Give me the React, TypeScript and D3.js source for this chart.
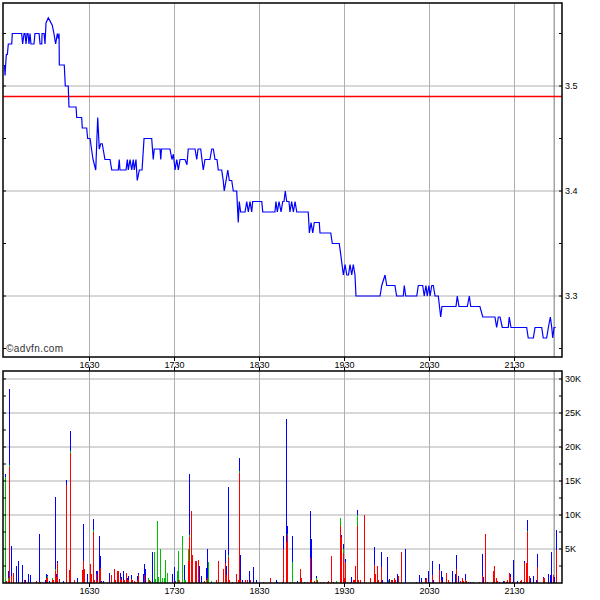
import React from "react";
import * as d3 from "d3";

// ---- data ----
const timeTickMinutes = [60, 120, 180, 240, 300, 360];
const timeLabels = ["1630", "1730", "1830", "1930", "2030", "2130"];
const priceTicks = [3.3, 3.4, 3.5];
const priceTickLabels = ["3.3", "3.4", "3.5"];
const volumeTicks = [5, 10, 15, 20, 25, 30];
const volumeTickLabels = ["5K", "10K", "15K", "20K", "25K", "30K"];
const previousClose = 3.49;
const lastTradeMinute = 388;

// [minutes since 15:30, price]
const trades: [number, number][] = [
  [0, 3.52], [0.4, 3.51], [0.8, 3.52], [1.3, 3.53], [2.0, 3.53], [2.7, 3.54], [5.1, 3.54], [5.5, 3.55],
  [12.1, 3.55], [12.8, 3.54], [13.8, 3.55], [14.5, 3.55], [15.2, 3.54], [15.9, 3.55], [16.6, 3.55],
  [17.3, 3.54], [18, 3.55], [18.7, 3.54], [20.8, 3.54], [21.5, 3.55], [24.4, 3.55], [25.1, 3.54],
  [26.3, 3.54], [26.5, 3.55], [27.9, 3.55], [28.6, 3.54], [29.3, 3.56], [30.9, 3.565], [32.1, 3.562],
  [33.7, 3.558], [34.9, 3.55], [36.1, 3.54], [37.3, 3.55], [38, 3.545], [38.5, 3.55], [38.7, 3.52],
  [42.2, 3.52], [42.9, 3.5], [45, 3.5], [45.5, 3.48], [50.5, 3.48], [51, 3.47], [54.5, 3.47],
  [54.9, 3.46], [58, 3.46], [58.7, 3.45], [60.4, 3.45], [61.4, 3.44], [62.5, 3.43], [64.4, 3.42],
  [65.8, 3.47], [66.9, 3.44], [67.9, 3.445], [69, 3.445], [70.9, 3.43], [74.5, 3.43], [75.7, 3.42],
  [80.3, 3.42], [81, 3.43], [81.5, 3.42], [85.8, 3.42], [86.7, 3.43], [87.4, 3.42], [88.6, 3.43],
  [89.8, 3.42], [90.9, 3.43], [91.6, 3.42], [92.8, 3.43], [93.7, 3.41], [95.2, 3.42], [97.1, 3.42],
  [98.5, 3.45], [103.9, 3.45], [105, 3.43], [105.7, 3.44], [109.8, 3.44], [110.3, 3.43], [110.8, 3.44],
  [116.8, 3.44], [118.2, 3.43], [119.2, 3.435], [120.4, 3.42], [121.6, 3.43], [122.7, 3.42],
  [123.9, 3.43], [127.4, 3.43], [128.8, 3.425], [129.7, 3.44], [134.5, 3.44], [135.7, 3.43],
  [136.6, 3.44], [138.5, 3.44], [140.3, 3.42], [141.5, 3.43], [145, 3.43], [146.3, 3.44],
  [147.4, 3.44], [148.6, 3.43], [150, 3.43], [150.9, 3.42], [153.3, 3.42], [154.4, 3.41],
  [155.1, 3.4], [156.4, 3.41], [157.6, 3.42], [158.7, 3.41], [160.4, 3.41], [161.5, 3.4],
  [163.9, 3.4], [165, 3.37], [165.7, 3.39], [166.7, 3.38], [169.8, 3.38], [171, 3.39], [172.1, 3.38],
  [173.3, 3.39], [174.5, 3.38], [175.2, 3.39], [181.6, 3.39], [182.3, 3.38], [190.9, 3.38],
  [191.6, 3.39], [192.6, 3.38], [193.8, 3.39], [195.2, 3.38], [196.4, 3.39], [197.3, 3.39],
  [198.2, 3.4], [199.2, 3.39], [200.8, 3.39], [201.5, 3.38], [202.7, 3.39], [203.9, 3.38],
  [205.1, 3.39], [206.3, 3.38], [214.4, 3.38], [215.2, 3.36], [216.4, 3.37], [217.6, 3.36],
  [218.7, 3.37], [222.2, 3.37], [222.7, 3.36], [230.3, 3.36], [231.4, 3.35], [236.3, 3.35],
  [237.3, 3.34], [239.2, 3.32], [240.4, 3.33], [241.6, 3.32], [242.8, 3.32], [243.9, 3.33],
  [245.1, 3.32], [246.2, 3.33], [247.4, 3.32], [248.1, 3.3], [265.1, 3.3], [266.3, 3.31],
  [268.6, 3.32], [269.8, 3.31], [275.6, 3.31], [276.8, 3.3], [281.5, 3.3], [282.2, 3.31],
  [283.2, 3.3], [291, 3.3], [292.1, 3.31], [295.2, 3.31], [296.3, 3.3], [297.5, 3.31], [298.4, 3.3],
  [299.6, 3.31], [300.4, 3.3], [301.6, 3.31], [302.7, 3.31], [303.9, 3.3], [306.2, 3.3],
  [307.9, 3.28], [308.8, 3.29], [318.7, 3.29], [319.6, 3.3], [320.8, 3.29], [326.7, 3.29],
  [328.1, 3.3], [329.1, 3.29], [335.6, 3.29], [337.6, 3.28], [346.2, 3.28], [347.4, 3.27],
  [348.6, 3.28], [349.8, 3.28], [351.4, 3.27], [355.6, 3.27], [356.3, 3.28], [357.5, 3.27],
  [368.6, 3.27], [369.7, 3.26], [373.3, 3.26], [374.5, 3.27], [379.2, 3.27], [380.3, 3.26],
  [382.7, 3.26], [383.9, 3.27], [385.3, 3.28], [386.3, 3.27], [387, 3.26], [387.9, 3.27], [389.1, 3.27],
];

// [minutes since 15:30, sell (red) K, unknown (green) K, buy (blue) K]
const volumes: [number, number, number, number][] = [
  [0, 0, 15.6, 0.4], [0.8, 0.3, 0, 0], [2.7, 0.3, 0.4, 1.0], [3.4, 17.0, 0.4, 11.1], [4.6, 1.0, 0, 4.4],
  [6.0, 1.4, 0, 0], [8.3, 0, 0, 2.5], [9.7, 0, 0, 3.2], [12.6, 0, 0, 2.6], [13.8, 0.4, 0, 0],
  [14.8, 0.2, 0, 0.3], [16.8, 0, 0, 1.3], [18.2, 0, 0, 1.2], [22, 0.3, 0, 0], [24.6, 0.2, 0, 7.0],
  [25.3, 0.2, 0, 0], [28.9, 0, 0, 0.5], [29.5, 0.7, 0, 0.6], [30.2, 0.8, 0.2, 0.2], [31.6, 0, 0, 0.3],
  [33.7, 0.5, 0.2, 0], [34.4, 0.5, 0, 0], [35.9, 1.8, 0.2, 10.6], [36.6, 0.9, 0, 0.4],
  [37.3, 2.9, 0, 0.3], [38.8, 0.4, 0, 0.2], [41.5, 0, 0, 0.3], [43.6, 14.4, 0, 0.7], [45.7, 1.9, 0, 0],
  [46.4, 19.1, 0.3, 3.0], [49.3, 0.4, 0, 0], [51.4, 0, 0.2, 0.5], [54.9, 1.9, 0, 0], [55.6, 3.2, 0, 5.5],
  [56.3, 2.1, 0, 0], [58.4, 0, 0, 1.3], [60, 0.5, 0, 0], [60.6, 2.8, 0, 0], [61.3, 1.3, 0, 0],
  [62.7, 7.5, 0.3, 1.6], [63.4, 0.5, 0, 0], [64.8, 1.3, 0, 0.4], [65.5, 0.3, 0, 1.4], [66.7, 1.9, 0, 5.0],
  [67.4, 2.2, 0, 1.7], [68.1, 0, 0, 0.3], [69.7, 0, 0, 0.3], [72.1, 0.2, 0, 0], [74, 0, 0, 1.4],
  [75.4, 1.2, 0, 0], [77.3, 2.0, 0, 0], [78, 0.5, 0, 0], [79.6, 1.7, 0, 0], [80.3, 1.8, 0, 0],
  [81.5, 0.8, 0, 0.6], [82.2, 0.5, 0, 0.4], [83.9, 0.5, 0, 1.3], [84.6, 0.4, 0, 0], [85.8, 1.4, 0, 0],
  [86.7, 0.5, 0, 0.3], [87.4, 0.4, 0, 0.6], [89.1, 0.6, 0, 0.6], [89.8, 0.4, 0, 0], [91.4, 0.3, 0, 0],
  [92.1, 0.2, 0, 0], [93.7, 0.5, 0, 0.5], [94.4, 1.2, 0, 0.2], [98, 0, 0, 1.3], [98.7, 1.2, 0, 1.6],
  [99.4, 0, 0, 2.1], [101.5, 0, 0.7, 0], [102, 0.5, 0, 0], [102.9, 0.3, 0, 0], [104.3, 0, 0, 4.5],
  [105.7, 0, 4.5, 0], [106.4, 0, 0.6, 0], [107.9, 0, 9.1, 0], [108.6, 0, 0.9, 0], [110, 0, 5.0, 0],
  [111.4, 0, 0.8, 0], [112.8, 0, 0.8, 0], [113.5, 0, 3.4, 0], [114.9, 0, 1.4, 0], [118.2, 0, 0, 1.3],
  [119.9, 0, 0, 2.3], [120.6, 0.3, 0, 0], [122, 0, 1.7, 0], [122.7, 0.5, 4.2, 0], [123.4, 0, 0.5, 0],
  [125.5, 0, 6.9, 0], [126.7, 0, 0.5, 2.1], [127.4, 0, 0.4, 0], [129.5, 3.2, 1.8, 0],
  [130.2, 6.7, 0.3, 9.0], [131.6, 10.6, 0, 0], [132.6, 4.1, 0, 0], [134.3, 3.2, 0, 0],
  [135.4, 3.2, 0, 0], [136.8, 3.4, 0, 0], [137.5, 0, 0, 2.5], [138.9, 0, 0, 1.0], [141, 0.3, 0, 0],
  [142, 0, 0.5, 1.7], [142.7, 0.7, 0, 4.3], [143.9, 0, 3.1, 0], [146, 0, 0.3, 0], [149.3, 0.4, 0, 0],
  [150.9, 3.2, 0, 0], [154.4, 2.1, 0, 0], [155.6, 3.0, 0, 1.9], [156.3, 1.2, 0, 1.3],
  [157.7, 3.8, 0.3, 10.0], [158.7, 0.4, 0, 0], [160.4, 0.2, 0, 0], [163.4, 1.3, 0, 0], [165, 0.5, 0, 0],
  [165.7, 16.2, 0.3, 1.9], [166.4, 0.5, 0, 3.6], [167.9, 0, 0, 0.4], [170, 0.4, 0, 0], [171, 0.4, 0, 0],
  [172.8, 0, 0, 1.7], [173.5, 0.4, 0, 0], [175.6, 0, 0, 2.3], [177.7, 0, 0, 0.5], [182.7, 0.2, 0, 0],
  [187.4, 0.7, 0, 0], [191.6, 0, 0, 0.5], [192.6, 0, 0, 0.2], [196.1, 0, 0, 0.2], [196.8, 5.0, 0, 1.9],
  [198.7, 6.0, 0, 18.1], [199.4, 7.0, 0.2, 1.2], [201.7, 0.2, 0, 0], [203.1, 0, 3.1, 3.8],
  [204.5, 0.2, 0, 0], [206.7, 0, 0, 0.3], [208.8, 2.1, 0, 0], [209.5, 0.8, 0, 0], [211.2, 0, 0, 0.2],
  [213.7, 0.2, 0, 0], [215.9, 3.7, 0, 6.9], [216.6, 0.4, 0, 6.1], [218.7, 0.3, 0, 0], [220.1, 0, 0.7, 0.3],
  [220.8, 0.5, 0, 0], [222.9, 0.2, 0, 0], [225, 0.2, 0, 0], [227.9, 0.2, 0, 0], [228.6, 0.3, 0, 0],
  [230.8, 4.0, 0, 0], [232.1, 0.2, 0, 0], [234, 0, 0.3, 0], [237, 8.4, 1.1, 0], [237.7, 6.8, 0, 0.3],
  [239.2, 4.4, 0.6, 0.7], [239.9, 0.7, 0, 0], [240.6, 3.1, 0, 0.4], [244.1, 0.2, 0, 0],
  [244.8, 0, 0, 0.9], [246.2, 0.5, 0, 0], [246.9, 0.5, 0, 0], [247.6, 2.5, 0, 0], [249, 8.4, 1.6, 0.7],
  [249.7, 0.5, 0, 0], [251.2, 0.4, 0, 0], [254, 10.0, 0, 0], [258.2, 0.7, 0, 0], [261, 2.6, 0, 2.7],
  [261.8, 1.3, 0, 0], [263.2, 2.5, 0, 0], [263.9, 0.4, 0, 0], [265.3, 0.2, 0, 0], [266, 2.3, 0, 2.3],
  [266.7, 0, 0, 0.4], [270.2, 0, 0, 3.8], [270.9, 0, 0.5, 0], [271.6, 0, 0, 0.6], [273, 0.5, 0, 0],
  [273.7, 0.4, 0, 0], [275.1, 0.7, 0, 0], [275.9, 0.4, 0, 0], [277.3, 0, 0, 1.3], [278, 1.0, 0, 0],
  [280.1, 4.6, 0, 0], [282.9, 0, 0, 5.0], [290.7, 0.2, 0, 0], [292.8, 0, 0, 1.2], [294.2, 0, 0, 0.7],
  [297, 0.5, 0, 0.2], [297.8, 0.7, 0, 0], [299.2, 0, 0, 1.7], [299.9, 0, 0, 0.2], [302, 1.2, 0, 2.0],
  [302.7, 0, 0, 0.4], [306.9, 1.9, 0, 0.9], [308.3, 0.5, 0, 1.2], [309, 0, 0, 0.9], [311.8, 1.5, 0, 0],
  [313.4, 0.5, 0, 0], [314.1, 0.2, 0, 0], [316.2, 0, 0, 1.7], [318.3, 0, 0, 1.3], [318.9, 2.1, 0, 2.0],
  [320.3, 0, 0, 1.0], [321.7, 0.3, 0, 0], [323.2, 0.7, 0, 0], [323.9, 0.3, 0, 0], [325.3, 0.4, 0, 0.9],
  [326, 0.3, 0, 0], [327.4, 0, 0, 0.2], [328.8, 0, 0, 0.2], [330.9, 0.2, 0, 0], [335.2, 0.2, 0, 0],
  [337.3, 1.0, 0, 3.3], [338, 0, 0, 0.9], [339.4, 7.2, 0, 0], [340.8, 0.2, 0, 0], [344.4, 0.2, 0, 0],
  [345.1, 1.7, 0, 0], [345.8, 2.5, 0, 0], [347.2, 0.7, 0, 0], [347.9, 0.3, 0, 0], [349.3, 0, 0, 0.2],
  [352.1, 0, 0, 0.3], [352.8, 0.3, 0, 0], [354.2, 0.2, 0, 0], [354.9, 0.5, 0, 0], [356.3, 1.4, 0, 0],
  [357, 0.9, 0, 0.4], [358.4, 0.2, 0, 0], [359.1, 0.2, 0, 3.2], [362, 0, 0, 0.3], [364.1, 0.3, 0, 0],
  [364.8, 0.5, 0, 0], [366.2, 0.2, 0, 0], [366.9, 3.0, 0, 0.2], [368.3, 3.0, 0, 0], [369, 7.5, 0.2, 1.6],
  [370.4, 1.0, 0, 0], [371.1, 0, 0, 0.7], [373.3, 0, 0, 1.0], [375.4, 0, 0, 0.5], [376.1, 2.3, 0, 2.0],
  [380.4, 0.7, 0, 0.2], [381.1, 0.7, 0, 0], [383.9, 0, 0, 1.3], [385.3, 0, 0, 1.2], [386, 0, 0, 4.6],
  [387.4, 1.2, 0, 0], [388.1, 0, 0, 0.9], [389.5, 4.9, 0, 2.9],
];

const FONT = "'Liberation Sans', Arial, Helvetica, sans-serif";
const GRID = "#b0b0b0";

export default function App() {
  const left = 3;
  const right = 562;
  const pTop = 3;
  const pBottom = 357;
  const vTop = 371;
  const vBottom = 583;

  const x = d3.scaleLinear().domain([0, 390]).range([4.5, 557]);
  const yP = d3.scaleLinear().domain([3.25, 3.5]).range([348.5, 86]);
  const yV = d3.scaleLinear().domain([0, 30]).range([vBottom, 379]);

  const line = d3
    .line<[number, number]>()
    .x((d) => x(d[0]))
    .y((d) => yP(d[1]));

  const priceMinor = d3.range(3.25, 3.5751, 0.05);
  const volMinor = d3.range(2.5, 30.01, 2.5);

  const bars: { x: number; y0: number; y1: number; color: string }[] = [];
  volumes.forEach(([m, s, u, b]) => {
    const bx = Math.round(x(m));
    let base = 0;
    const parts: [number, string][] = [
      [s, "#ff0000"],
      [u, "#00c000"],
      [b, "#0000ff"],
    ];
    parts.forEach(([v, c]) => {
      if (v > 0) {
        bars.push({ x: bx, y0: yV(base), y1: yV(base + v), color: c });
        base += v;
      }
    });
  });

  return (
    <svg
      width={600}
      height={600}
      style={{ position: "absolute", left: 0, top: 0, background: "#fff" }}
      fontFamily={FONT}
    >
      <rect x={0} y={0} width={600} height={600} fill="#fff" />
      {/* price panel grid */}
      <g clipPath="url(#clipP)">
        {priceTicks.map((p) => (
          <line key={"pg" + p} x1={left} x2={right} y1={yP(p)} y2={yP(p)} stroke={GRID} strokeWidth={1} />
        ))}
        {timeTickMinutes.map((m) => (
          <line key={"tg" + m} x1={x(m)} x2={x(m)} y1={pTop} y2={pBottom} stroke={GRID} strokeWidth={1} />
        ))}
        <line x1={x(lastTradeMinute)} x2={x(lastTradeMinute)} y1={pTop} y2={pBottom} stroke="#6e7c7c" strokeWidth={1} />
      </g>
      <defs>
        <clipPath id="clipP">
          <rect x={left} y={pTop} width={right - left} height={pBottom - pTop} />
        </clipPath>
      </defs>
      {/* volume grid */}
      {volumeTicks.map((v) => (
        <line key={"vg" + v} x1={left} x2={right} y1={yV(v)} y2={yV(v)} stroke={GRID} strokeWidth={1} />
      ))}
      {timeTickMinutes.map((m) => (
        <line key={"vtg" + m} x1={x(m)} x2={x(m)} y1={vTop} y2={vBottom} stroke={GRID} strokeWidth={1} />
      ))}
      <line x1={x(lastTradeMinute)} x2={x(lastTradeMinute)} y1={vTop} y2={vBottom} stroke="#6e7c7c" strokeWidth={1} />

      {/* volume bars */}
      {bars.map((b, i) => (
        <rect
          key={"b" + i}
          x={b.x}
          y={Math.min(b.y0, b.y1)}
          width={1}
          height={Math.max(0.8, Math.abs(b.y0 - b.y1))}
          fill={b.color}
          shapeRendering="crispEdges"
        />
      ))}

      {/* previous close */}
      <line x1={left} x2={right} y1={yP(previousClose)} y2={yP(previousClose)} stroke="#ff0000" strokeWidth={1.5} />
      {/* price line */}
      <path d={line(trades) || ""} fill="none" stroke="#0000ff" strokeWidth={1.2} clipPath="url(#clipP)" />

      {/* frames */}
      <rect x={left} y={pTop} width={right - left} height={pBottom - pTop} fill="none" stroke="#000" strokeWidth={1.5} />
      <rect x={left} y={vTop} width={right - left} height={vBottom - vTop} fill="none" stroke="#000" strokeWidth={1.5} />

      {/* price axis ticks */}
      {priceMinor.map((p) => (
        <g key={"pt" + p}>
          <line x1={left} x2={left + 3} y1={yP(p)} y2={yP(p)} stroke="#000" />
          <line x1={right - 3} x2={right} y1={yP(p)} y2={yP(p)} stroke="#000" />
        </g>
      ))}
      {priceTicks.map((p, i) => (
        <text key={"pl" + p} x={565} y={yP(p)} dy="0.35em" fontSize={9} fill="#000">
          {priceTickLabels[i]}
        </text>
      ))}

      {/* volume axis ticks */}
      {volMinor.map((v) => (
        <g key={"vt" + v}>
          <line x1={left} x2={left + 3} y1={yV(v)} y2={yV(v)} stroke="#000" />
          <line x1={right - 3} x2={right} y1={yV(v)} y2={yV(v)} stroke="#000" />
        </g>
      ))}
      {volumeTicks.map((v, i) => (
        <text key={"vl" + v} x={565} y={yV(v)} dy="0.35em" fontSize={9} fill="#000">
          {volumeTickLabels[i]}
        </text>
      ))}

      {/* time axis ticks & labels */}
      {timeTickMinutes.map((m, i) => (
        <g key={"tt" + m}>
          <line x1={x(m)} x2={x(m)} y1={pBottom} y2={pBottom + 4} stroke="#000" />
          <line x1={x(m)} x2={x(m)} y1={vTop - 4} y2={vTop} stroke="#000" />
          <line x1={x(m)} x2={x(m)} y1={vBottom} y2={vBottom + 4} stroke="#000" />
          <text x={x(m)} y={365} dy="0.35em" textAnchor="middle" fontSize={9} fill="#000">
            {timeLabels[i]}
          </text>
          <text x={x(m)} y={591} dy="0.35em" textAnchor="middle" fontSize={9} fill="#000">
            {timeLabels[i]}
          </text>
        </g>
      ))}

      <text x={6} y={352} fontSize={10} fill="#333" letterSpacing={0.4}>
        ©advfn.com
      </text>
    </svg>
  );
}
